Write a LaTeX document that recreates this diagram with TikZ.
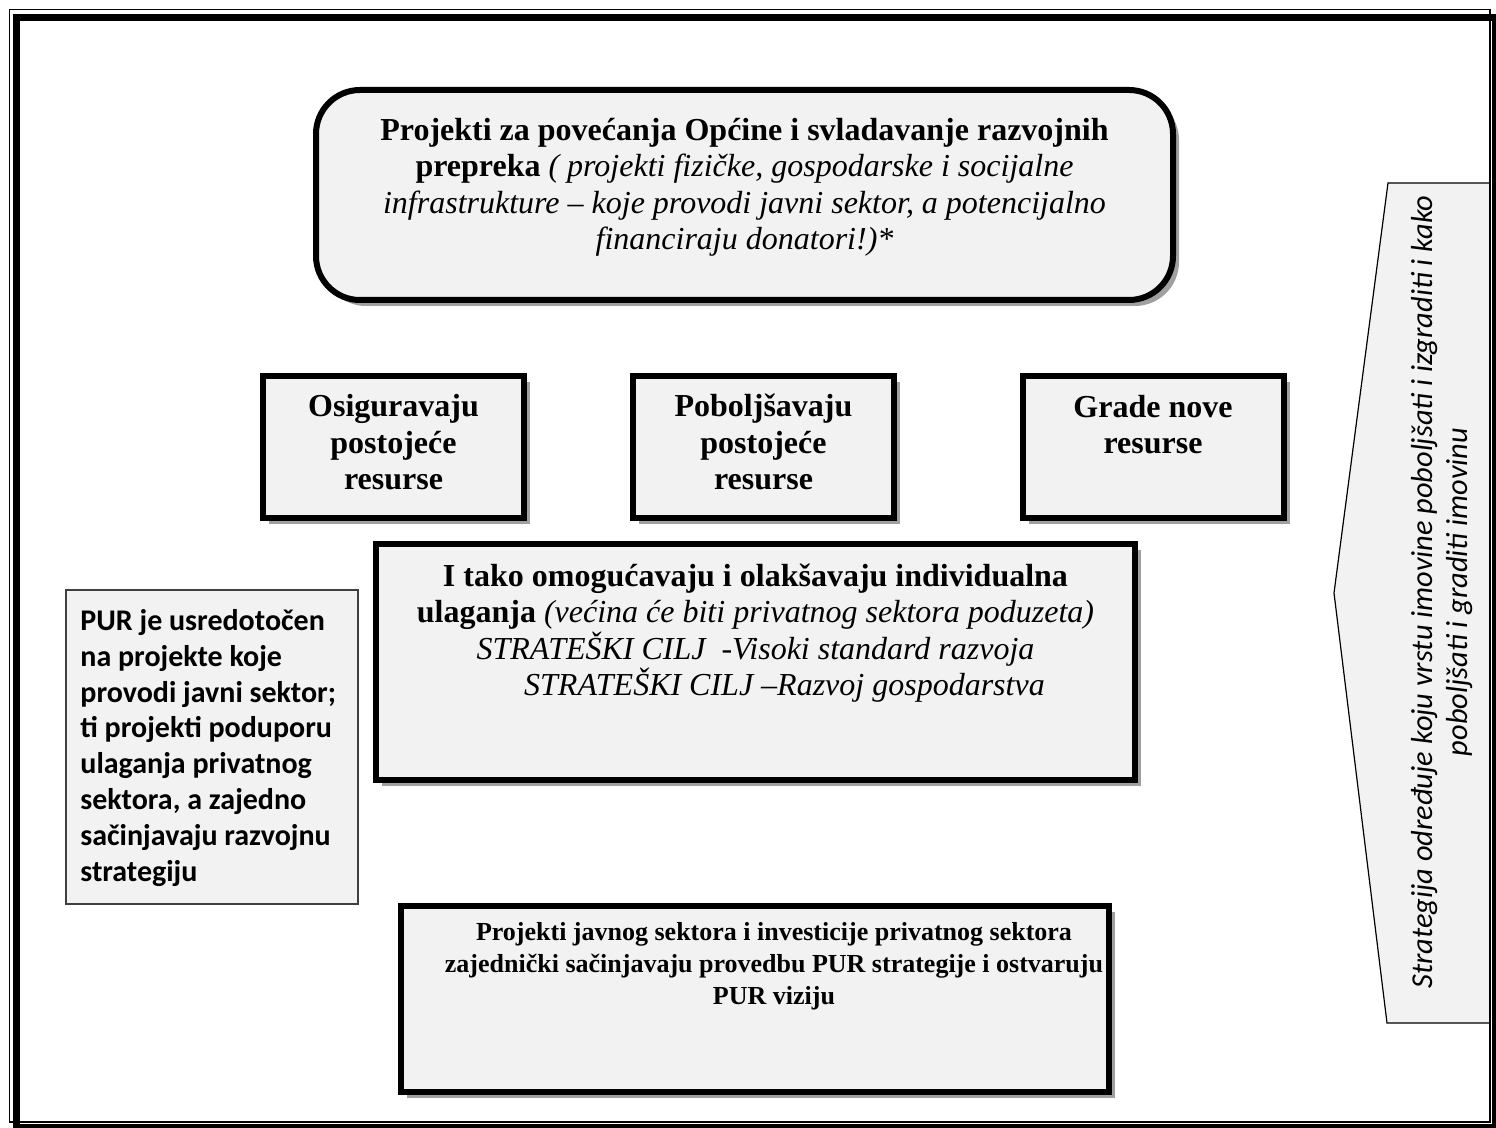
\documentclass[tikz,border=0pt]{standalone}
\usepackage{fontspec}
\setmainfont{Liberation Serif}
\newfontfamily\calibri{Carlito}
\usetikzlibrary{shadows}
\definecolor{boxgray}{HTML}{F2F2F2}
\definecolor{shadowgray}{HTML}{A0A0A0}

\begin{document}
\begin{tikzpicture}[x=0.5pt,y=-0.5pt,
    okvir/.style={draw=black, line width=3pt, fill=boxgray, inner sep=0pt,
      drop shadow={shadow xshift=3pt, shadow yshift=-3pt, fill=shadowgray, opacity=1}},
    malibox/.style={okvir, minimum width=130.5pt, minimum height=71pt},
    tekst/.style={inner sep=0pt, align=center, font=\fontsize{16}{18.3}\selectfont},
    malitekst/.style={tekst, font=\fontsize{16}{18.3}\selectfont\bfseries}]
    \useasboundingbox (0,0) rectangle (1496,1128);
    % gornji okvir
    \node[okvir, rounded corners=22pt, minimum width=428.5pt, minimum height=105pt] (projekti) at (744.5,195) {};
    \node[tekst, anchor=base] (projektitxt) at (744.5,250) {\textbf{Projekti za povećanja Općine i svladavanje razvojnih}\\
      \textbf{prepreka} \textit{( projekti fizičke, gospodarske i socijalne}\\
      \textit{infrastrukture – koje provodi javni sektor, a potencijalno}\\
      \textit{financiraju donatori!)*}};
    % tri okvira
    \node[malibox] (osig) at (393.5,447) {};
    \node[malitekst, anchor=base] (osigtxt) at (393.5,490) {Osiguravaju\\postojeće\\resurse};
    \node[malibox] (pobolj) at (763.5,447) {};
    \node[malitekst, anchor=base] (poboljtxt) at (763.5,490) {Poboljšavaju\\postojeće\\resurse};
    \node[malibox] (grade) at (1153,447) {};
    \node[malitekst, anchor=base] (gradetxt) at (1153,454) {Grade nove\\resurse};
    % ulaganja
    \node[okvir, minimum width=379.5pt, minimum height=118pt] (ulaganja) at (755.5,662) {};
    \node[tekst, anchor=base] (ulaganjatxt) at (755.5,696) {\textbf{I tako omogućavaju i olakšavaju individualna}\\
      \textbf{ulaganja} \textit{(većina će biti privatnog sektora poduzeta)}\\
      \textit{STRATEŠKI CILJ \ -Visoki standard razvoja}\\
      \hspace*{29pt}\textit{STRATEŠKI CILJ –Razvoj gospodarstva}};
    % provedba
    \node[okvir, minimum width=354pt, minimum height=93pt] (provedba) at (755,999) {};
    \node[tekst, anchor=base, font=\fontsize{13}{16}\selectfont\bfseries] (provedbatxt) at (774,1004) {Projekti javnog sektora i investicije privatnog sektora\\
      zajednički sačinjavaju provedbu PUR strategije i ostvaruju\\
      PUR viziju};
    % PUR lijevo
    \node[draw=black!75, line width=0.75pt, fill=boxgray, minimum width=146pt, minimum height=157pt] (pur) at (212,747) {};
    \node[inner sep=0pt, anchor=base west, align=left, font=\calibri\bfseries\fontsize{15}{17.9}\selectfont] (purtxt) at (80,881) {PUR je usredotočen\\
      na projekte koje\\
      provodi javni sektor;\\
      ti projekti poduporu\\
      ulaganja privatnog\\
      sektora, a zajedno\\
      sačinjavaju razvojnu\\
      strategiju};
    % strelica desno
    \draw[line width=0.6pt, fill=boxgray] (1388,183) -- (1490,183) -- (1490,1023) -- (1387,1023) -- (1334,593) -- cycle;
    \node[rotate=90, inner sep=0pt, anchor=base, align=center, font=\calibri\itshape\fontsize{15.2}{17.5}\selectfont] (strategija) at (1467,592) {Strategija određuje koju vrstu imovine poboljšati i izgraditi i kako\\
      poboljšati i graditi imovinu};
    % okvir stranice
    \draw[line width=0.75pt] (9.5,9.5) rectangle (1490,1122);
    \draw[line width=3.5pt] (16.5,17.5) rectangle (1495.5,1127.5);
\end{tikzpicture}
\end{document}
